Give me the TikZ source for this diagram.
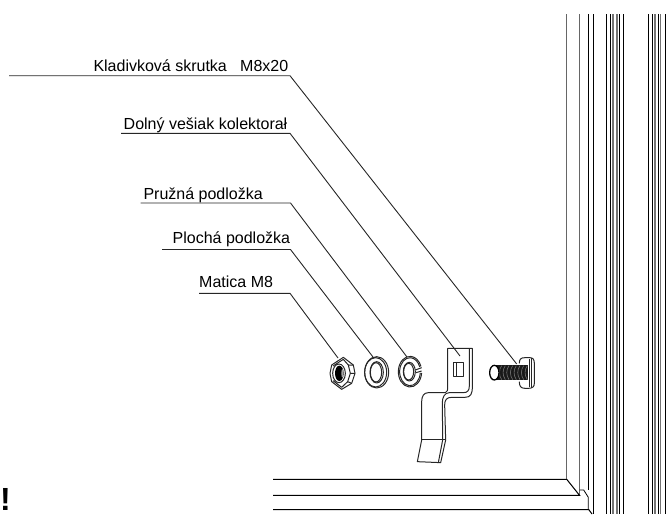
\documentclass[tikz,border=0pt]{standalone}
\usepackage{fontspec}
\setmainfont{Liberation Sans}
\tikzset{
 lbl/.style={anchor=base west,inner sep=0pt,font=\fontsize{16}{18}\selectfont},
 lead/.style={line width=0.9pt,black!85},
 part/.style={line width=1pt,black!85,line join=round},
 vb/.style={line width=1pt,black},
 vg/.style={line width=1.6pt,black!55},
}
\begin{document}
\begin{tikzpicture}[x=1pt,y=-1pt]
\useasboundingbox (0,0) rectangle (666,514);
% labels
\node[lbl] (l1) at (93.3,71) {Kladivková skrutka \ \ M8x20};
\node[lbl] (l2) at (123.5,129) {Dolný vešiak kolektorał};
\node[lbl] (l3) at (143.3,199.3) {Pružná podložka};
\node[lbl] (l4) at (172.5,243.5) {Plochá podložka};
\node[lbl] (l5) at (199,287.5) {Matica M8};
\node[anchor=base west,inner sep=0pt,font=\fontsize{32}{34}\selectfont\bfseries] (ex) at (0,510) {!};
% leader coordinates
\coordinate (a1) at (9,75.7); \coordinate (b1) at (290,75.7); \coordinate (c1) at (516.7,364);
\coordinate (a2) at (121,133.3); \coordinate (b2) at (290,133.3); \coordinate (c2) at (460,356);
\coordinate (a3) at (140.7,203); \coordinate (b3) at (290.5,203); \coordinate (c3) at (407,357);
\coordinate (a4) at (162,249.5); \coordinate (b4) at (290.5,249.5); \coordinate (c4) at (373,357);
\coordinate (a5) at (199,293.3); \coordinate (b5) at (290,293.3); \coordinate (c5) at (338,358);
\foreach \i in {1,...,5} {\draw[lead] (a\i) -- (b\i) -- (c\i);}
% nut
\begin{scope}[shift={(325,350)},x=0.3333pt,y=-0.3333pt]
\draw[part,fill=white] (20,45) -- (55,22) -- (85,45) -- (90,70) -- (80,100) -- (50,118) -- (20,95) -- (15,70) -- cycle;
\draw[part] (24,48) -- (55,28) -- (70,45) -- (76,70) -- (68,95) -- (50,112) -- (24,92);
\draw[part] (70,45) -- (85,45) (76,70) -- (90,70) (68,95) -- (80,100);
\draw[part] (42,70) ellipse [x radius=19,y radius=28];
\fill[black] (43,70) ellipse [x radius=13,y radius=23];
\fill[white!65!black] (52,70) ellipse [x radius=3,y radius=13];
\end{scope}
% washers
\begin{scope}[shift={(310,320)},x=0.3333pt,y=-0.3333pt]
\draw[part] (200,157) ellipse [x radius=36,y radius=47];
\draw[part] (197,157) ellipse [x radius=33,y radius=44];
\draw[part] (200,157) ellipse [x radius=20,y radius=32];
\draw[part] (198,157) ellipse [x radius=17,y radius=29];
\draw[part] (334.9,159) arc[start angle=5,end angle=340,x radius=35,y radius=46];
\draw[part] (330.9,158.7) arc[start angle=5,end angle=340,x radius=31,y radius=42];
\draw[part] (298,155) ellipse [x radius=18,y radius=28];
\draw[part] (296,155) ellipse [x radius=15,y radius=25];
\draw[part] (316,150) -- (335,143) (318,158) -- (335,153);
\end{scope}
% bracket and bolt
\begin{scope}[shift={(400,320)},x=0.3333pt,y=-0.3333pt]
\draw[part] (143,85) -- (217,85) -- (217,200) .. controls (217,222) and (212,232) .. (195,232) -- (155,232) .. controls (140,232) and (134,240) .. (134,255) -- (137,360) -- (122,428) -- (52,425) -- (65,360) -- (65,245) .. controls (65,228) and (72,218) .. (85,218) -- (136,218) .. controls (143,212) and (143,212) .. (143,205) -- cycle;
\draw[part] (208,85) -- (208,198) .. controls (208,212) and (202,218) .. (190,218) -- (148,218) .. controls (134,218) and (127,232) .. (127,248) -- (128,360) -- (115,428);
\draw[part] (65,360) -- (137,360);
\draw[part] (161,128) rectangle (190,170);
\draw[part] (168,128) -- (168,170);
% bolt
\fill[black!90] (283,135) -- (385,135) -- (385,181) -- (283,181) -- cycle;
\foreach \x in {305,316,327,338,349,360,371,382}
  \draw[white!45!black,line width=0.6pt] (\x,137) .. controls (\x-9,150) and (\x-9,165) .. (\x,179);
\draw[line width=1.3pt,black,fill=white] (283,158) ellipse [x radius=14,y radius=22];
\draw[part] (358,130) .. controls (358,118) and (362,113) .. (375,113) -- (390,113) .. controls (400,113) and (403,120) .. (403,130) -- (403,190) .. controls (403,200) and (398,205) .. (385,205) -- (375,205) .. controls (362,205) and (358,198) .. (358,185);
\draw[part] (388,116) -- (388,202);
\draw[part] (395,115) -- (395,203);
\end{scope}
% frame: vertical lines
\foreach \x/\e in {566.7/479.3,579.7/495}
 \draw[line width=1pt,black!60] (\x,14) -- (\x,\e);
\draw[vb] (588.3,14) -- (588.3,490);
\draw[vb] (593.3,14) -- (593.3,514);
\foreach \x in {606.7,610.7,619,623.3,648.7,652.7,658.7,665.3}
 \draw[vb] (\x,14) -- (\x,514);
\foreach \x in {612.7,617,654.7,660.6}
 \draw[vg] (\x,14) -- (\x,514);
% frame: horizontal
\draw[vb] (273,479.3) -- (566.7,479.3) -- (579.5,495.3) -- (273,495.3);
\draw[vb] (273,509.5) -- (588.7,509.5) -- (592,514);
\draw[line width=0.8pt,black] (579.7,490) -- (583.7,490) -- (588.3,497.3) -- (588.3,509.5);
\end{tikzpicture}
\end{document}
